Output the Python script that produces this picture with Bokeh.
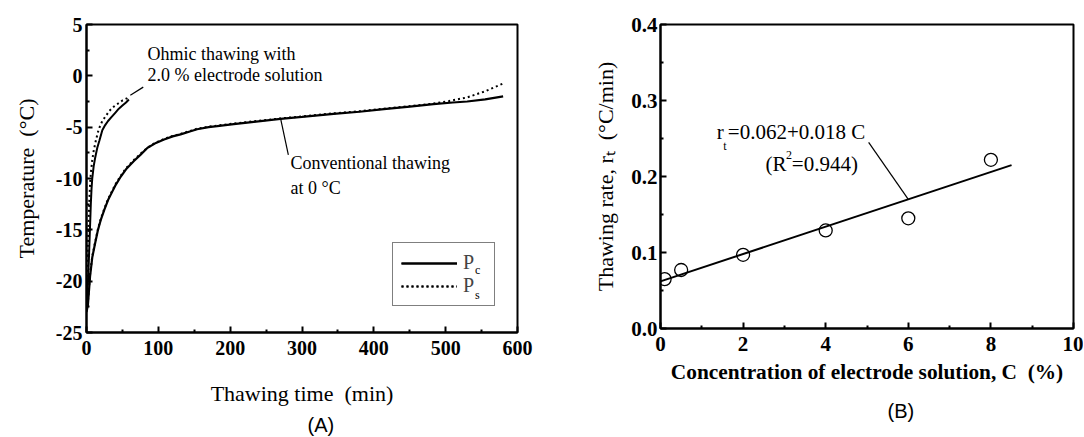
from bokeh.plotting import figure
from bokeh.models import Range1d, FixedTicker, Label, Legend, LegendItem, Title
from bokeh.layouts import row
from bokeh.embed import file_html
from bokeh.resources import INLINE

# ---------------- Panel A data ----------------
conv_t = [0, 2, 5, 8, 12, 16, 20, 25, 30, 35, 40, 47, 55, 66, 75, 85, 95, 108, 120, 131, 145,
          154, 170, 182, 205, 230, 270, 300, 344, 380, 414, 450, 483, 510, 530, 555, 580]
conv_pc = [-23, -22.3, -19.5, -17.7, -16.3, -15, -14, -13, -12.1, -11.4, -10.7, -9.9, -9.1, -8.3,
           -7.7, -7.0, -6.6, -6.2, -5.9, -5.7, -5.4, -5.2, -5.0, -4.9, -4.7, -4.5, -4.2, -4.0,
           -3.7, -3.5, -3.25, -3.0, -2.75, -2.6, -2.5, -2.3, -2.0]
conv_ps_t = [0, 2, 5, 8, 12, 16, 20, 25, 30, 35, 40, 47, 55, 66, 75, 85, 95, 108, 120, 131, 145,
             154, 170, 182, 205, 230, 270, 300, 344, 380, 414, 450, 483, 505, 530, 555, 580]
conv_ps = [-22.8, -22.0, -19.3, -17.6, -16.2, -14.9, -13.9, -12.9, -12.0, -11.3, -10.6, -9.8, -9.0,
           -8.2, -7.6, -7.0, -6.55, -6.15, -5.85, -5.65, -5.35, -5.15, -4.95, -4.85, -4.65, -4.45,
           -4.15, -3.95, -3.65, -3.45, -3.2, -2.95, -2.7, -2.45, -2.1, -1.5, -0.75]
ohm_pc_t = [0, 1, 2, 3, 4, 5, 6, 7, 8, 10, 12, 15, 18, 22, 26, 30, 35, 40, 45, 50, 55, 59]
ohm_pc = [-22.5, -21.5, -20, -18.5, -16.5, -14.5, -12.5, -11, -10, -8.8, -8, -7, -6.3, -5.3,
          -4.8, -4.4, -4, -3.6, -3.2, -2.9, -2.6, -2.3]
ohm_ps_t = [0, 1, 2, 3, 4, 5, 6, 8, 10, 13, 17, 22, 27, 32, 38, 44, 50, 56, 59]
ohm_ps = [-22.5, -19.5, -16.5, -14, -12, -10.5, -9.5, -8.2, -7.3, -6.3, -5.2, -4.4, -3.9, -3.4,
          -3.0, -2.7, -2.4, -2.2, -2.0]

a_xticks = [0, 100, 200, 300, 400, 500, 600]
a_xminor = [50, 150, 250, 350, 450, 550]
a_yticks = [-25, -20, -15, -10, -5, 0, 5]
a_ytick_labels = ["-25", "-20", "-15", "-10", "-5", "0", "5"]
a_yminor = [-22.5, -17.5, -12.5, -7.5, -2.5, 2.5]

# ---------------- Panel B data ----------------
conc = [0.1, 0.5, 2, 4, 6, 8]
rate = [0.065, 0.077, 0.097, 0.129, 0.145, 0.222]
fit_intercept = 0.062
fit_slope = 0.018
fit_c = [0.0, 8.5]
fit_r = [fit_intercept + fit_slope * c for c in fit_c]

b_xticks = [0, 2, 4, 6, 8, 10]
b_xminor = [1, 3, 5, 7, 9]
b_yticks = [0.0, 0.1, 0.2, 0.3, 0.4]
b_ytick_labels = ["0.0", "0.1", "0.2", "0.3", "0.4"]
b_yminor = [0.05, 0.15, 0.25, 0.35]

SERIF = "Liberation Serif"
SANS = "Liberation Sans"


def style(p, tick_size, label_size):
    p.background_fill_color = "white"
    p.border_fill_color = "white"
    p.outline_line_color = "black"
    p.outline_line_width = 2
    p.grid.visible = False
    for ax in (p.xaxis[0], p.yaxis[0]):
        ax.axis_line_width = 2
        ax.major_tick_in = 6
        ax.major_tick_out = 0
        ax.minor_tick_in = 3
        ax.minor_tick_out = 0
        ax.major_tick_line_width = 2
        ax.minor_tick_line_width = 2
        ax.major_label_text_font = SERIF
        ax.major_label_text_font_style = "bold"
        ax.major_label_text_font_size = tick_size
        ax.major_label_text_color = "black"
        ax.axis_label_text_font = SERIF
        ax.axis_label_text_font_size = label_size
        ax.axis_label_text_font_style = "normal"
        ax.axis_label_text_color = "black"


def lab(p, x, y, text, size, font=SERIF, align="left", level="annotation"):
    p.add_layout(Label(x=x, y=y, text=text, text_font=font, text_font_size=size,
                       text_baseline="middle", text_align=align, text_color="black",
                       level=level))


# ---------------- Panel A ----------------
pA = figure(frame_width=431, frame_height=308, min_border_left=86, min_border_right=28,
            min_border_top=22, min_border_bottom=106,
            x_range=Range1d(0, 600), y_range=Range1d(-25, 5),
            output_backend="svg", toolbar_location=None)
style(pA, "20px", "22px")
pA.xaxis[0].ticker = FixedTicker(ticks=a_xticks, minor_ticks=a_xminor)
pA.yaxis[0].ticker = FixedTicker(ticks=a_yticks, minor_ticks=a_yminor)
pA.yaxis[0].major_label_overrides = {t: l for t, l in zip(a_yticks, a_ytick_labels)}
pA.xaxis[0].axis_label = "Thawing time \u00a0(min)"
pA.yaxis[0].axis_label = "Temperature \u00a0(°C)"
pA.xaxis[0].major_label_standoff = 8
pA.xaxis[0].axis_label_standoff = 23
pA.yaxis[0].major_label_standoff = 4
pA.yaxis[0].axis_label_standoff = 14

r1 = pA.line(conv_t, conv_pc, line_color="black", line_width=2.2)
r2 = pA.line(ohm_pc_t, ohm_pc, line_color="black", line_width=2)
r3 = pA.line(conv_ps_t, conv_ps, line_color="black", line_width=2, line_dash="2 3")
r4 = pA.line(ohm_ps_t, ohm_ps, line_color="black", line_width=2, line_dash="2 3")

# leader lines
pA.segment(x0=[61, 270], y0=[-1.9, -4.1], x1=[79, 281], y1=[-1.1, -7.7],
           line_color="black", line_width=1.2)

for txt, x, y in [("Ohmic thawing with", 85, 2.1), ("2.0 % electrode solution", 85, 0.1),
                  ("Conventional thawing", 284, -8.45), ("at 0 °C", 284, -10.9)]:
    lab(pA, x, y, txt, "18px")

legA = Legend(items=[LegendItem(label="P", renderers=[r1, r2]),
                     LegendItem(label="P", renderers=[r3, r4])],
              location=(306, 26), border_line_color="black", border_line_width=1.5,
              background_fill_alpha=0, padding=8, spacing=0, glyph_width=56,
              glyph_height=20, label_height=20, label_width=23, label_standoff=6,
              label_text_font=SERIF, label_text_font_size="20px", margin=0)
pA.add_layout(legA, "center")
lab(pA, 541, -18.9, "c", "12px", level="overlay")
lab(pA, 541, -21.3, "s", "12px", level="overlay")
pA.add_layout(Title(text="(A)", align="left", offset=221, standoff=6, text_font=SANS,
                    text_font_size="20px", text_font_style="normal", text_color="black"),
              "below")

# ---------------- Panel B ----------------
pB = figure(frame_width=413, frame_height=304, min_border_left=115, min_border_right=10,
            min_border_top=24, min_border_bottom=107,
            x_range=Range1d(0, 10), y_range=Range1d(0, 0.4),
            output_backend="svg", toolbar_location=None)
style(pB, "21px", "22px")
pB.xaxis[0].ticker = FixedTicker(ticks=b_xticks, minor_ticks=b_xminor)
pB.yaxis[0].ticker = FixedTicker(ticks=b_yticks, minor_ticks=b_yminor)
pB.yaxis[0].major_label_overrides = {t: l for t, l in zip(b_yticks, b_ytick_labels)}
pB.yaxis[0].axis_label = "Thawing rate, rₜ \u00a0(°C/min)"
pB.xaxis[0].major_label_standoff = 8
pB.yaxis[0].major_label_standoff = 3
pB.yaxis[0].axis_label_standoff = 10
pB.add_layout(Title(text="Concentration of electrode solution, C \u00a0(%)", align="center",
                    standoff=9, text_font=SERIF, text_font_size="16pt",
                    text_font_style="bold", text_color="black"), "below")
pB.add_layout(Title(text="(B)", align="left", offset=227, standoff=19, text_font=SANS,
                    text_font_size="20px", text_font_style="normal", text_color="black"),
              "below")

pB.line(fit_c, fit_r, line_color="black", line_width=2)
pB.scatter(conc, rate, marker="circle", size=13, fill_color=None, line_color="black",
           line_width=1.3)
pB.segment(x0=[5.04], y0=[0.245], x1=[6.0], y1=[0.170], line_color="black", line_width=1.2)

lab(pB, 1.36, 0.259, "r", "21px")
lab(pB, 1.52, 0.240, "t", "12px")
lab(pB, 1.63, 0.259, "=0.062+0.018 C", "21px")
lab(pB, 2.54, 0.217, "(R", "21px")
lab(pB, 3.04, 0.228, "2", "12px")
lab(pB, 3.18, 0.217, "=0.944)", "21px")

layout = row(pA, pB)
open("out.html", "w").write(file_html(layout, INLINE))
